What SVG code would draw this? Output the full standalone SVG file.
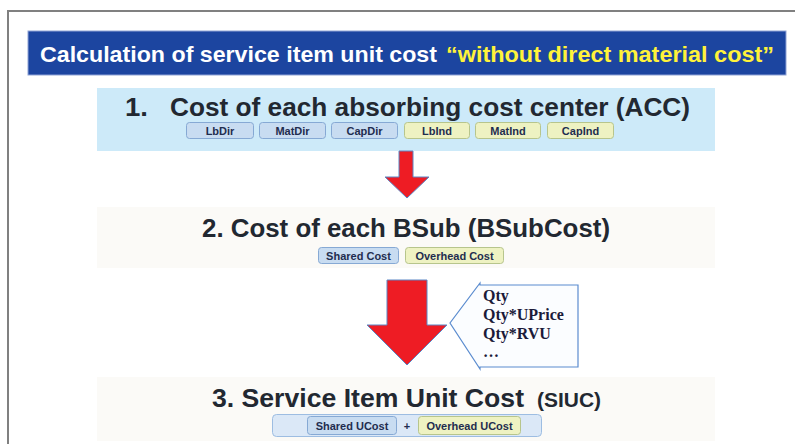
<svg xmlns="http://www.w3.org/2000/svg" width="795" height="444" viewBox="0 0 795 444">
<style>
.ttl{font-family:"Liberation Sans",Arial,sans-serif;font-weight:bold;fill:#222831}
.bar{font-family:"Liberation Sans",Arial,sans-serif;font-weight:bold;font-size:22px}
.chip{font-family:"Liberation Sans",Arial,sans-serif;font-weight:bold;font-size:11px;fill:#1f2d4f;text-anchor:middle}
.cb{fill:#c8dcf1;stroke:#86a9d4;stroke-width:1}
.cy{fill:#eef2c2;stroke:#b7c58c;stroke-width:1}
.arrow{fill:#ee1c24;stroke:#5a86c4;stroke-width:1}
.q{font-family:"Liberation Serif",serif;font-weight:bold;font-size:16px;fill:#1b1b3a}
</style>
<rect width="795" height="444" fill="#ffffff"/>
<path d="M8 444 V11 H795" fill="none" stroke="#808080" stroke-width="2"/>
<g id="header">
<rect x="28" y="31" width="758" height="44" fill="#1c45a0" stroke="#8fa3d6" stroke-width="1"/>
<text class="bar" x="40" y="62" fill="#ffffff" textLength="397" lengthAdjust="spacingAndGlyphs">Calculation of service item unit cost</text>
<text class="bar" x="446" y="62" fill="#fff23a" textLength="328" lengthAdjust="spacingAndGlyphs">“without direct material cost”</text>
</g>
<g id="acc">
<rect x="97" y="88" width="618" height="63" fill="#cdeaf9"/>
<text class="ttl" x="125" y="116" font-size="25.5" textLength="23" lengthAdjust="spacingAndGlyphs">1.</text>
<text class="ttl" x="170" y="116" font-size="25" textLength="520" lengthAdjust="spacingAndGlyphs">Cost of each absorbing cost center (ACC)</text>
<rect class="cb" x="186.5" y="122.5" width="67" height="16" rx="3"/>
<rect class="cb" x="259.5" y="122.5" width="66" height="16" rx="3"/>
<rect class="cb" x="331.5" y="122.5" width="66" height="16" rx="3"/>
<rect class="cy" x="404.5" y="122.5" width="65" height="16" rx="3"/>
<rect class="cy" x="475.5" y="122.5" width="65" height="16" rx="3"/>
<rect class="cy" x="547.5" y="122.5" width="66" height="16" rx="3"/>
<text class="chip" x="220" y="134.5">LbDir</text>
<text class="chip" x="292.5" y="134.5">MatDir</text>
<text class="chip" x="364.5" y="134.5">CapDir</text>
<text class="chip" x="437" y="134.5">LbInd</text>
<text class="chip" x="508" y="134.5">MatInd</text>
<text class="chip" x="580.5" y="134.5">CapInd</text>
</g>
<g id="bsub">
<rect x="97" y="207" width="618" height="61" fill="#fbfaf7"/>
<text class="ttl" x="202" y="237" font-size="25.5" textLength="408" lengthAdjust="spacingAndGlyphs">2. Cost of each BSub (BSubCost)</text>
<rect class="cb" x="318.5" y="247.5" width="80" height="16" rx="3"/>
<rect class="cy" x="405.5" y="247.5" width="98" height="16" rx="3"/>
<text class="chip" x="358.5" y="259.5">Shared Cost</text>
<text class="chip" x="454.5" y="259.5">Overhead Cost</text>
</g>
<g id="siuc">
<rect x="97" y="377" width="618" height="64" fill="#fbfaf7"/>
<text class="ttl" x="212" y="407" font-size="26" textLength="312" lengthAdjust="spacingAndGlyphs">3. Service Item Unit Cost</text>
<text class="ttl" x="537" y="407" font-size="20" textLength="64" lengthAdjust="spacingAndGlyphs">(SIUC)</text>
<rect x="272.5" y="414.5" width="269" height="22" rx="4" fill="#dbe8f7" stroke="#9dbde2" stroke-width="1"/>
<rect class="cb" x="307.5" y="416.5" width="89" height="18" rx="3"/>
<text class="chip" x="407" y="430">+</text>
<rect class="cy" x="418.5" y="416.5" width="102" height="18" rx="3"/>
<text class="chip" x="352" y="430">Shared UCost</text>
<text class="chip" x="469.5" y="430">Overhead UCost</text>
</g>
<g id="callout">
<path d="M480 283 L480 285 H578 V367 H480 V369 L450 323 Z" fill="#fbfdff" stroke="#5b8ccf" stroke-width="1.2"/>
<text class="q" x="483" y="301">Qty</text>
<text class="q" x="483" y="320">Qty*UPrice</text>
<text class="q" x="483" y="339">Qty*RVU</text>
<text class="q" x="483" y="357">…</text>
</g>
<g id="connectors">
<path class="arrow" d="M399 151 H413 V177 H429 L407 198 L385 177 H399 Z"/>
<path class="arrow" d="M387 280 H427 V325 H447 L407 365 L367 325 H387 Z"/>
</g>
</svg>
